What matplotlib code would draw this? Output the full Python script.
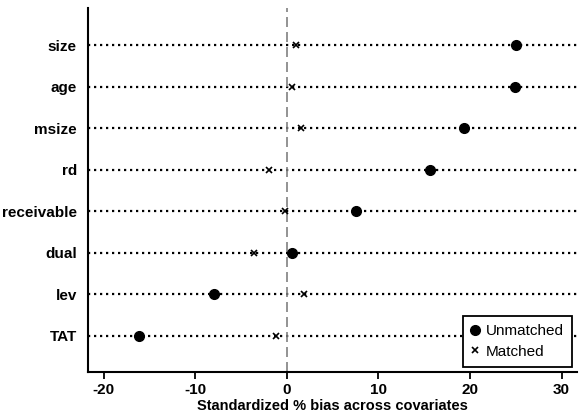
import numpy as np
from matplotlib import pyplot as plt

plt.rcParams['font.family'] = ['Liberation Sans', 'DejaVu Sans']

covariates = ['size', 'age', 'msize', 'rd', 'receivable', 'dual', 'lev', 'TAT']
unmatched = [25.0, 24.9, 19.3, 15.6, 7.5, 0.6, -7.9, -16.1]
matched = [1.0, 0.6, 1.5, -1.9, -0.2, -3.6, 1.9, -1.2]
xticks = [-20, -10, 0, 10, 20, 30]

ypos = np.arange(len(covariates), 0, -1)

fig = plt.figure(figsize=(5.83, 4.19), dpi=100)
ax = fig.add_axes([0.151, 0.112, 0.839, 0.869])

xmin, xmax = -21.7, 31.7
for y in ypos:
    ax.plot([xmin, xmax], [y, y], linestyle=(0, (1, 1.7)), color='black', lw=1.6, zorder=1)
ax.axvline(0, color='#808080', linestyle=(0, (6, 3)), lw=1.2, zorder=1)

ax.plot(unmatched, ypos, 'o', color='black', markersize=7, linestyle='none',
        label='Unmatched', zorder=3)
ax.plot(matched, ypos, 'x', color='black', markersize=4.5, markeredgewidth=1.2,
        linestyle='none', label='Matched', zorder=3)

ax.set_xlim(xmin, xmax)
ax.set_ylim(0.13, 8.9)
ax.set_xticks(xticks)
ax.set_xticklabels([str(t) for t in xticks], fontsize=11, fontweight='bold')
ax.set_yticks(ypos)
ax.set_yticklabels(covariates, fontsize=11, fontweight='bold')
ax.tick_params(axis='y', length=0, pad=8)
ax.tick_params(axis='x', length=5, width=1.3, pad=3)

for s in ['top', 'right']:
    ax.spines[s].set_visible(False)
for s in ['left', 'bottom']:
    ax.spines[s].set_linewidth(1.5)

ax.set_xlabel('Standardized % bias across covariates', fontsize=10.5,
              fontweight='bold', labelpad=1)

leg = ax.legend(loc='lower right', fontsize=11, frameon=True, fancybox=False,
                edgecolor='black', handlelength=0.5, handletextpad=0.45,
                borderpad=0.55, labelspacing=0.4, framealpha=1,
                borderaxespad=0, bbox_to_anchor=(0.99, 0.014))
leg.get_frame().set_linewidth(1.3)

plt.savefig('out.png', dpi=100)
